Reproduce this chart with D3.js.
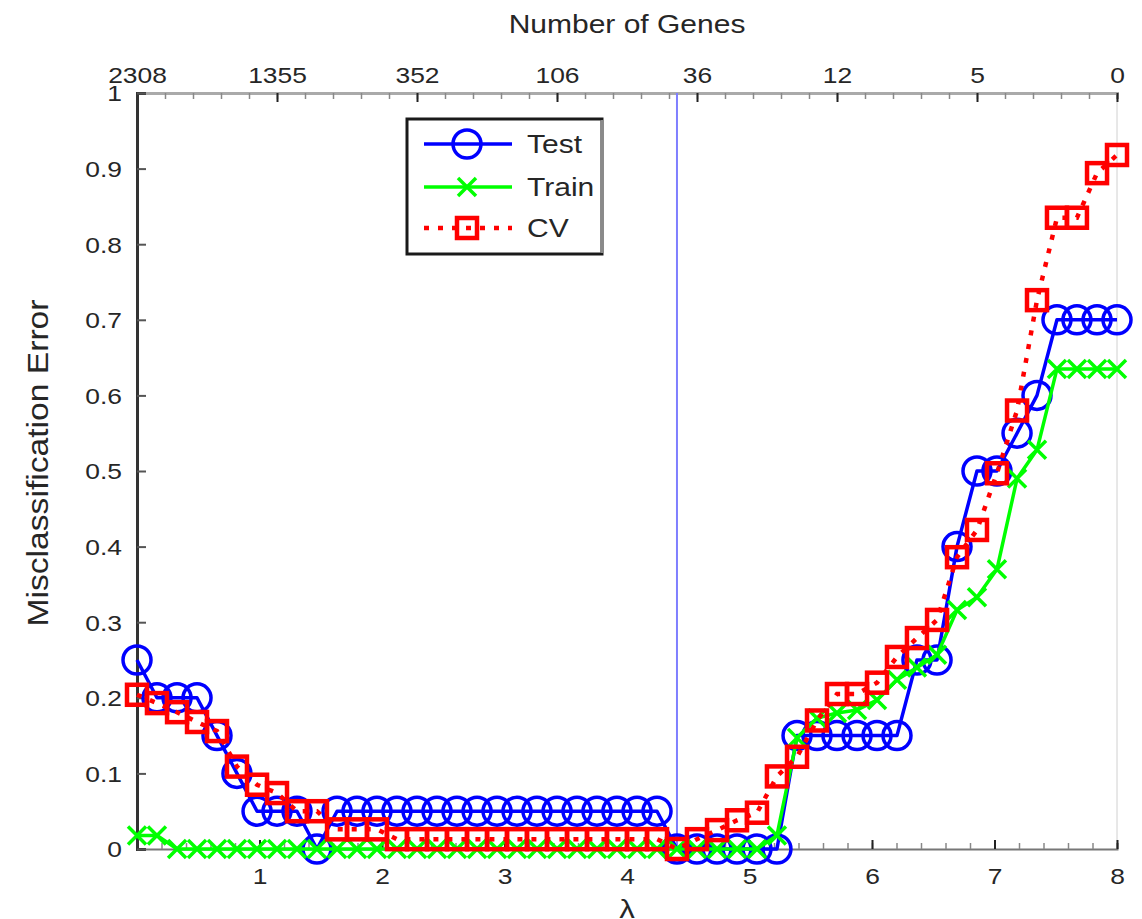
<!DOCTYPE html>
<html>
<head>
<meta charset="utf-8">
<script src="https://cdn.jsdelivr.net/npm/d3@7/dist/d3.min.js"></script>
<style>
  html, body { margin: 0; padding: 0; background: #fff; }
  svg { display: block; }
  text { font-family: "Liberation Sans", Arial, sans-serif; fill: #262626; }
</style>
</head>
<body>
<svg id="chart" width="1142" height="919"></svg>
<script>
// Regularisation path: lambda grid (bottom axis)
const lambda = [0.000, 0.163, 0.327, 0.490, 0.653, 0.816, 0.980, 1.143, 1.306, 1.469,
                1.633, 1.796, 1.959, 2.122, 2.286, 2.449, 2.612, 2.776, 2.939, 3.102,
                3.265, 3.429, 3.592, 3.755, 3.918, 4.082, 4.245, 4.408, 4.571, 4.735,
                4.898, 5.061, 5.224, 5.388, 5.551, 5.714, 5.878, 6.041, 6.204, 6.367,
                6.531, 6.694, 6.857, 7.020, 7.184, 7.347, 7.510, 7.673, 7.837, 8.000];

// Misclassification error on each set
const testErr = [0.25, 0.20, 0.20, 0.20, 0.15, 0.10, 0.05, 0.05, 0.05, 0.00,
                 0.05, 0.05, 0.05, 0.05, 0.05, 0.05, 0.05, 0.05, 0.05, 0.05,
                 0.05, 0.05, 0.05, 0.05, 0.05, 0.05, 0.05, 0.00, 0.00, 0.00,
                 0.00, 0.00, 0.00, 0.15, 0.15, 0.15, 0.15, 0.15, 0.15, 0.25,
                 0.25, 0.40, 0.50, 0.50, 0.55, 0.60, 0.70, 0.70, 0.70, 0.70];

const trainErr = [0.018, 0.018, 0, 0, 0, 0, 0, 0, 0, 0,
                  0, 0, 0, 0, 0, 0, 0, 0, 0, 0,
                  0, 0, 0, 0, 0, 0, 0, 0, 0, 0,
                  0, 0, 0.018, 0.147, 0.173, 0.180, 0.184, 0.197, 0.224, 0.240,
                  0.257, 0.316, 0.333, 0.370, 0.490, 0.528, 0.635, 0.635, 0.635, 0.635];

const cvErr = [0.204, 0.193, 0.181, 0.168, 0.156, 0.109, 0.085, 0.074, 0.050, 0.050,
               0.026, 0.026, 0.026, 0.013, 0.013, 0.013, 0.013, 0.013, 0.013, 0.013,
               0.013, 0.013, 0.013, 0.013, 0.013, 0.013, 0.013, 0.000, 0.013, 0.025,
               0.038, 0.048, 0.096, 0.122, 0.170, 0.205, 0.205, 0.220, 0.254, 0.279,
               0.303, 0.386, 0.422, 0.497, 0.580, 0.726, 0.835, 0.835, 0.894, 0.918];

// Number of genes kept, shown along the top
const geneTicks = ["2308", "1355", "352", "106", "36", "12", "5", "0"];
const lambdaTicks = [1, 2, 3, 4, 5, 6, 7, 8];
const errTicks = [0, 0.1, 0.2, 0.3, 0.4, 0.5, 0.6, 0.7, 0.8, 0.9, 1];
const bestLambda = 4.408;

const seriesNames = ["Test", "Train", "CV"];

const svg = d3.select("#chart");
const m = { left: 137, right: 1117, top: 93, bottom: 849 };

const x = d3.scaleLinear().domain([0, 8]).range([m.left, m.right]);
const y = d3.scaleLinear().domain([0, 1]).range([m.bottom, m.top]);
const xTop = d3.scalePoint().domain(geneTicks).range([m.left, m.right]);
const xTopMinor = d3.scaleLinear().domain([0, geneTicks.length - 1]).range([m.left, m.right]);

const tickFont = 22;
const wide = 1.2;   // horizontal widening of the lettering

// right frame edge (faint)
svg.append("line")
  .attr("x1", m.right).attr("x2", m.right).attr("y1", m.top).attr("y2", m.bottom)
  .attr("stroke", "#d0d0d0").attr("stroke-width", 1);

// ---- bottom axis (lambda) ----
const gBottomMinor = svg.append("g").attr("transform", `translate(0,${m.bottom})`)
  .call(d3.axisTop(x).tickValues(d3.range(0, 8.001, 0.2)).tickSize(6).tickFormat(""));
gBottomMinor.select(".domain").attr("stroke", "#777").attr("stroke-width", 2);
gBottomMinor.selectAll(".tick line").attr("stroke", "#888").attr("stroke-width", 1.5);

const gBottom = svg.append("g").attr("transform", `translate(0,${m.bottom})`)
  .call(d3.axisTop(x).tickValues(lambdaTicks).tickSize(9).tickFormat(d3.format("d")));
gBottom.select(".domain").remove();
gBottom.selectAll(".tick line").attr("stroke", "#222").attr("stroke-width", 2);
gBottom.selectAll(".tick text")
  .attr("y", 35).attr("dy", 0)
  .attr("transform", `scale(${wide},1)`)
  .style("font-size", tickFont + "px").attr("text-anchor", "middle");

// ---- top axis (number of genes) ----
const gTopMinor = svg.append("g").attr("transform", `translate(0,${m.top})`)
  .call(d3.axisBottom(xTopMinor).tickValues(d3.range(0, 7.001, 0.2)).tickSize(6).tickFormat(""));
gTopMinor.select(".domain").attr("stroke", "#aaa").attr("stroke-width", 3);
gTopMinor.selectAll(".tick line").attr("stroke", "#888").attr("stroke-width", 1.5);

const gTop = svg.append("g").attr("transform", `translate(0,${m.top})`)
  .call(d3.axisBottom(xTop).tickSize(9));
gTop.select(".domain").remove();
gTop.selectAll(".tick line").attr("stroke", "#222").attr("stroke-width", 2);
gTop.selectAll(".tick text")
  .attr("y", -10).attr("dy", 0)
  .attr("transform", `scale(${wide},1)`)
  .style("font-size", tickFont + "px").attr("text-anchor", "middle");

// ---- left axis (error) ----
const gLeft = svg.append("g").attr("transform", `translate(${m.left},0)`)
  .call(d3.axisRight(y).tickValues(errTicks).tickSize(9).tickFormat(d => d3.format("")(+d.toFixed(1))));
gLeft.select(".domain").attr("stroke", "#333").attr("stroke-width", 3);
gLeft.selectAll(".tick line").attr("stroke", "#555").attr("stroke-width", 2);
gLeft.selectAll(".tick text")
  .attr("x", -15 / wide).attr("dy", "0.36em")
  .attr("transform", `scale(${wide},1)`)
  .attr("text-anchor", "end")
  .style("font-size", tickFont + "px");

// ---- axis titles ----
svg.append("text")
  .attr("transform", `translate(${(m.left + m.right) / 2},33) scale(${wide},1)`)
  .attr("text-anchor", "middle").style("font-size", "25px").text("Number of Genes");
svg.append("text")
  .attr("transform", `translate(${(m.left + m.right) / 2},918) scale(${wide},1)`)
  .attr("text-anchor", "middle").style("font-size", "26px").text("λ");
svg.append("text")
  .attr("transform", `translate(48,463) rotate(-90) scale(1.16,1)`)
  .attr("text-anchor", "middle").style("font-size", "29px").text("Misclassification Error");

// ---- selected lambda ----
svg.append("line")
  .attr("x1", x(bestLambda)).attr("x2", x(bestLambda))
  .attr("y1", y(1)).attr("y2", y(0))
  .attr("stroke", "#7f7fff").attr("stroke-width", 2);

// ---- series ----
const blue = "#0000ff", green = "#00ff00", red = "#ff0000";
const lineGen = vals => d3.line().x((d, i) => x(lambda[i])).y(d => y(d))(vals);

function circleMarks(g, vals) {
  g.selectAll("circle").data(vals).join("circle")
    .attr("cx", (d, i) => x(lambda[i])).attr("cy", d => y(d)).attr("r", 14)
    .attr("fill", "none").attr("stroke", blue).attr("stroke-width", 3.5);
}
function crossMarks(g, vals) {
  const s = 9;
  g.selectAll("path.mk").data(vals).join("path").attr("class", "mk")
    .attr("d", (d, i) => {
      const cx = x(lambda[i]), cy = y(d);
      return `M${cx - s},${cy - s}L${cx + s},${cy + s}M${cx - s},${cy + s}L${cx + s},${cy - s}`;
    })
    .attr("fill", "none").attr("stroke", green).attr("stroke-width", 3.5);
}
function squareMarks(g, vals) {
  const s = 20;
  g.selectAll("rect").data(vals).join("rect")
    .attr("x", (d, i) => x(lambda[i]) - s / 2).attr("y", d => y(d) - s / 2)
    .attr("width", s).attr("height", s)
    .attr("fill", "none").attr("stroke", red).attr("stroke-width", 4.5);
}

const gTest = svg.append("g");
gTest.append("path").attr("d", lineGen(testErr))
  .attr("fill", "none").attr("stroke", blue).attr("stroke-width", 3.5).attr("stroke-linejoin", "round");
circleMarks(gTest, testErr);

const gTrain = svg.append("g");
gTrain.append("path").attr("d", lineGen(trainErr))
  .attr("fill", "none").attr("stroke", green).attr("stroke-width", 3.5).attr("stroke-linejoin", "round");
crossMarks(gTrain, trainErr);

const gCV = svg.append("g");
gCV.append("path").attr("d", lineGen(cvErr))
  .attr("fill", "none").attr("stroke", red).attr("stroke-width", 4.5)
  .attr("stroke-dasharray", "5,9");
squareMarks(gCV, cvErr);

// ---- legend ----
const lg = svg.append("g");
lg.append("rect").attr("x", 407).attr("y", 119).attr("width", 195).attr("height", 135)
  .attr("fill", "#fff").attr("stroke", "#1a1a1a").attr("stroke-width", 3);
lg.append("line").attr("x1", 602).attr("x2", 602).attr("y1", 120).attr("y2", 253)
  .attr("stroke", "#8a8a8a").attr("stroke-width", 3);

const legendRows = [
  { name: seriesNames[0], color: blue, dash: null, mark: "circle", yy: 144 },
  { name: seriesNames[1], color: green, dash: null, mark: "cross", yy: 187 },
  { name: seriesNames[2], color: red, dash: "5,9", mark: "square", yy: 228 }
];
legendRows.forEach(r => {
  const row = lg.append("g");
  row.append("line").attr("x1", 424).attr("x2", 512).attr("y1", r.yy).attr("y2", r.yy)
    .attr("stroke", r.color).attr("stroke-width", r.mark === "square" ? 4.5 : 3.5)
    .attr("stroke-dasharray", r.dash);
  const cx = 467;
  if (r.mark === "circle") {
    row.append("circle").attr("cx", cx).attr("cy", r.yy).attr("r", 14)
      .attr("fill", "none").attr("stroke", r.color).attr("stroke-width", 3.5);
  } else if (r.mark === "cross") {
    const s = 9;
    row.append("path")
      .attr("d", `M${cx - s},${r.yy - s}L${cx + s},${r.yy + s}M${cx - s},${r.yy + s}L${cx + s},${r.yy - s}`)
      .attr("stroke", r.color).attr("stroke-width", 3.5).attr("fill", "none");
  } else {
    row.append("rect").attr("x", cx - 10).attr("y", r.yy - 10).attr("width", 20).attr("height", 20)
      .attr("fill", "none").attr("stroke", r.color).attr("stroke-width", 4.5);
  }
  row.append("text")
    .attr("transform", `translate(527,${r.yy}) scale(${wide},1)`)
    .attr("dy", "0.36em")
    .style("font-size", "25px").text(r.name);
});
</script>
</body>
</html>
